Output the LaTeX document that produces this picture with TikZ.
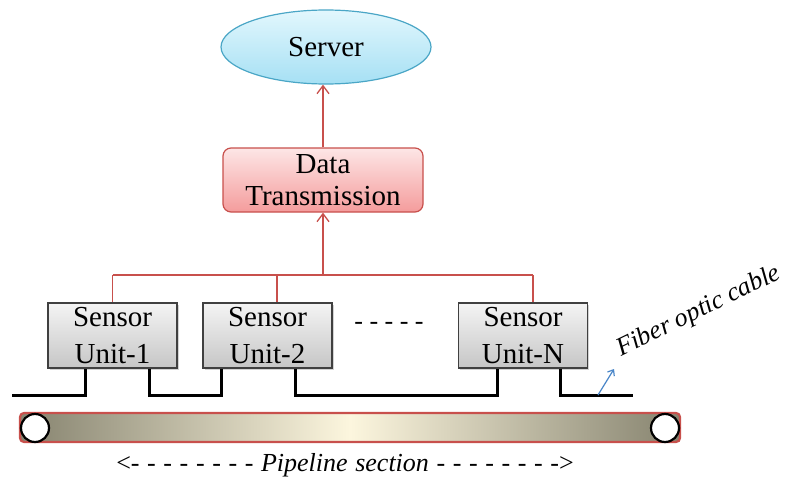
\documentclass[tikz,border=0pt]{standalone}
\usepackage{fontspec}
\setmainfont{Liberation Serif}
\usetikzlibrary{arrows.meta,calc,shadows,shapes.geometric}

\definecolor{redline}{HTML}{C8504C}
\definecolor{servtop}{HTML}{E2F7FD}
\definecolor{servbot}{HTML}{A6E0F4}
\definecolor{servedge}{HTML}{4AA6C6}
\definecolor{datatop}{HTML}{FDE6E6}
\definecolor{databot}{HTML}{F49C9C}
\definecolor{sensetop}{HTML}{F4F4F4}
\definecolor{sensebot}{HTML}{C6C6C6}
\definecolor{pipeend}{HTML}{86836F}
\definecolor{pipemid}{HTML}{FCF6DE}
\definecolor{pipeedge}{HTML}{C8504C}
\definecolor{fiberblue}{HTML}{4A86C8}

\tikzset{
  servernode/.style={ellipse, draw=servedge, line width=1.2pt,
    top color=servtop, bottom color=servbot,
    minimum width=210pt, minimum height=74pt, inner sep=0pt,
    font=\fontsize{29}{33}\selectfont},
  datanode/.style={rectangle, rounded corners=8pt, draw=redline, line width=1.2pt,
    top color=datatop, bottom color=databot,
    minimum width=200pt, minimum height=64pt, inner sep=0pt, align=center,
    font=\fontsize{29}{33}\selectfont},
  sensornode/.style={rectangle, draw=black!75, line width=1.3pt,
    top color=sensetop, bottom color=sensebot,
    drop shadow={shadow xshift=1.5pt, shadow yshift=-1.5pt, opacity=0.35},
    minimum width=129pt, minimum height=65pt, inner sep=0pt, align=center,
    font=\fontsize{29}{37}\selectfont},
  redwire/.style={draw=redline, line width=1.4pt},
  redarrow/.style={redwire, -{Straight Barb[length=8pt,width=12pt,line width=1.3pt]}},
  cable/.style={draw=black, line width=3pt, line join=miter},
  pipenode/.style={rectangle, rounded corners=4pt, draw=pipeedge, line width=2.2pt,
    left color=pipeend, right color=pipeend, middle color=pipemid,
    minimum width=660pt, minimum height=29pt, inner sep=0pt},
  endcap/.style={circle, draw=black, line width=2.2pt, fill=white,
    minimum size=28pt, inner sep=0pt},
  labeltext/.style={font=\fontsize{26}{30}\selectfont\itshape}
}

\begin{document}
\begin{tikzpicture}[x=1pt,y=-1pt]
  \useasboundingbox (0,0) rectangle (787,479);

  % top of the chain
  \node[servernode] (server) at (326,47) {Server};
  \node[datanode] (data) at (323,180) {Data\\[-1pt]Transmission};

  % sensor units
  \node[sensornode] (s1) at (112.5,335.5) {Sensor\\Unit-1};
  \node[sensornode] (s2) at (267.5,335.5) {Sensor\\Unit-2};
  \node[sensornode] (sN) at (523,335.5) {Sensor\\Unit-N};
  \node[font=\fontsize{26}{30}\selectfont] (dots) at (389,326) {- - - - -};

  % red collection bus
  \coordinate (b1) at (112.5,275);
  \coordinate (b2) at (277,275);
  \coordinate (bN) at (533,275);
  \draw[redwire] (b1) -- (bN);
  \draw[redwire] (b1) -- (b1 |- s1.north);
  \draw[redwire] (b2) -- (b2 |- s2.north);
  \draw[redwire] (bN) -- (bN |- sN.north);
  \draw[redarrow] (data.south |- b1) -- (data.south);
  \draw[redarrow] (data.north) -- (data.north |- server.south);

  % fiber optic cable looping through the sensor units
  \coordinate (c0) at (12,395);
  \coordinate (cE) at (633,395);
  \coordinate (l1) at ($(s1.south)+(-27.5,0)$);
  \coordinate (r1) at ($(s1.south)+(36.5,0)$);
  \coordinate (l2) at ($(s2.south)+(-46.5,0)$);
  \coordinate (r2) at ($(s2.south)+(27.5,0)$);
  \coordinate (lN) at ($(sN.south)+(-26,0)$);
  \coordinate (rN) at ($(sN.south)+(37,0)$);
  \draw[cable] (c0) -| (l1);
  \draw[cable] (r1) -- (r1 |- c0) -| (l2);
  \draw[cable] (r2) -- (r2 |- c0) -| (lN);
  \draw[cable] (rN) -- (rN |- c0) -- (cE);

  % cable label
  \coordinate (tipfoot) at (598,395);
  \coordinate (tiphead) at (614,369);
  \draw[fiberblue, line width=1.2pt, -{Straight Barb[length=5pt,width=8pt]}] (tipfoot) -- (tiphead);
  \node[labeltext, rotate=26, anchor=base west] (fiber) at (618,358) {Fiber optic cable};

  % pipeline section
  \node[pipenode] (pipe) at (350,427.5) {};
  \node[endcap] (capL) at (35,428) {};
  \node[endcap] (capR) at (665,428) {};
  \node[font=\fontsize{26}{30}\selectfont] (span) at (345,465)
    {\spaceskip=7.6pt\relax <- - - - - - - - \textit{Pipeline section} - - - - - - - ->};
\end{tikzpicture}
\end{document}
